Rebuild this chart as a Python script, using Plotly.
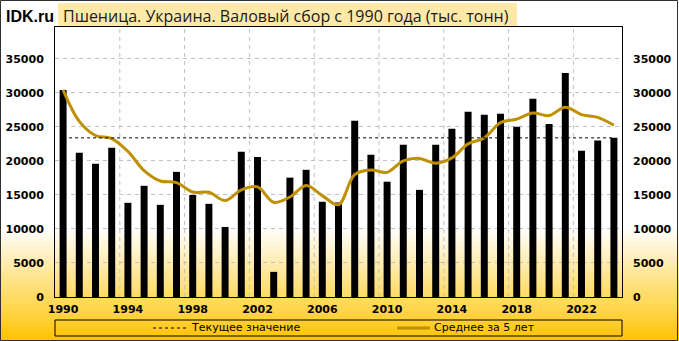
import plotly.graph_objects as go

# ---- data ----
years = list(range(1990, 2025))
harvest = [30450, 21200, 19600, 21950, 13850, 16350, 13550, 18400, 15000, 13700,
           10300, 21350, 20600, 3700, 17550, 18700, 14000, 13900, 25900, 20900,
           16950, 22400, 15750, 22400, 24750, 27250, 26800, 26950, 25050, 29150,
           25450, 32950, 21500, 23000, 23400]
avg5 = [30450, 25825, 23750, 23300, 21410, 18590, 17060, 16820, 15430, 15400,
        14190, 15750, 16190, 13930, 14700, 16380, 14910, 13570, 18010, 18680,
        18330, 20010, 20380, 19680, 20450, 22510, 23390, 25630, 26160, 27040,
        26680, 27910, 26820, 26410, 25260]
current_value = 23400
tick_years = [1990, 1994, 1998, 2002, 2006, 2010, 2014, 2018, 2022]
y_ticks = [0, 5000, 10000, 15000, 20000, 25000, 30000, 35000]
y_tick_labels = [str(v) for v in y_ticks]
title_text = "Пшеница. Украина. Валовый сбор с 1990 года (тыс. тонн)"
series_names = ["Текущее значение", "Среднее за 5 лет"]

# ---- geometry ----
W, H = 679, 341
L, R, T, B = 55, 57, 27, 44
PW, PH = W - L - R, H - T - B


def px_x(p):
    return (p - L) / PW


def px_y(p):
    return (H - B - p) / PH


fig = go.Figure()

fig.add_trace(go.Scatter(
    x=years, y=[current_value] * len(years), mode="lines",
    name=series_names[0], line=dict(color="black", width=1, dash="3px,3px"),
    yaxis="y2", showlegend=False))
fig.add_trace(go.Bar(x=years, y=harvest, marker=dict(color="black", line=dict(width=0)),
                     showlegend=False, name="Валовый сбор"))
fig.add_trace(go.Scatter(
    x=years, y=avg5, mode="lines", name=series_names[1], showlegend=False,
    line=dict(color="#BF9000", width=3, shape="spline", smoothing=1.0)))

shapes = []
# background gradient (white -> orange) at the bottom of the chart
g0, g1 = 228, H
steps = 57
for i in range(steps):
    a = g0 + (g1 - g0) * i / steps
    b = g0 + (g1 - g0) * (i + 1) / steps
    t = (i + 0.5) / steps
    r_, g_, b_ = 255, int(255 + (196 - 255) * t), int(255 + (0 - 255) * t)
    shapes.append(dict(type="rect", xref="paper", yref="paper",
                       x0=px_x(0), x1=px_x(W), y0=px_y(b + 0.5), y1=px_y(a),
                       fillcolor=f"rgb({r_},{g_},{b_})", line=dict(width=0), layer="below"))
# title background
shapes.append(dict(type="rect", xref="paper", yref="paper",
                   x0=px_x(58), x1=px_x(517), y0=px_y(27), y1=px_y(3),
                   fillcolor="#FFE9A8", line=dict(width=0), layer="below"))
# vertical dashed grid lines between category groups
for yr in tick_years:
    if yr + 3.5 < years[-1]:
        shapes.append(dict(type="line", xref="x", yref="paper", x0=yr + 3.5, x1=yr + 3.5,
                           y0=0, y1=1, line=dict(color="#C0C0C0", width=1, dash="4px,4px"),
                           layer="below"))
# legend box
shapes.append(dict(type="rect", xref="paper", yref="paper",
                   x0=0, x1=1, y0=px_y(336), y1=px_y(320),
                   line=dict(color="black", width=1), fillcolor="rgba(0,0,0,0)"))
# legend symbols
leg_y = px_y(328)
shapes.append(dict(type="line", xref="paper", yref="paper", x0=px_x(153), x1=px_x(186),
                   y0=leg_y, y1=leg_y, line=dict(color="black", width=1, dash="3px,3px")))
shapes.append(dict(type="line", xref="paper", yref="paper", x0=px_x(397), x1=px_x(430),
                   y0=leg_y, y1=leg_y, line=dict(color="#BF9000", width=3)))
# outer frame
shapes.append(dict(type="rect", xref="paper", yref="paper",
                   x0=px_x(0.5), x1=px_x(677.5), y0=px_y(340.5), y1=px_y(0.5),
                   line=dict(color="#303030", width=1), fillcolor="rgba(0,0,0,0)"))

legend_font = dict(family="DejaVu Sans", size=11, color="black")
annotations = [
    dict(text="IDK.ru", xref="paper", yref="paper", x=px_x(4), y=px_y(16),
         xanchor="left", yanchor="middle", showarrow=False,
         font=dict(family="Liberation Sans", size=16, color="black", weight="bold")),
    dict(text=title_text, xref="paper", yref="paper", x=px_x(61), y=px_y(16),
         xanchor="left", yanchor="middle", showarrow=False,
         font=dict(family="Open Sans", size=16, color="#1a1a1a")),
    dict(text=series_names[0], xref="paper", yref="paper", x=px_x(189), y=leg_y,
         xanchor="left", yanchor="middle", showarrow=False, font=legend_font),
    dict(text=series_names[1], xref="paper", yref="paper", x=px_x(432), y=leg_y,
         xanchor="left", yanchor="middle", showarrow=False, font=legend_font),
]

tickfont = dict(family="DejaVu Sans", size=11, color="black", weight="bold")

fig.update_layout(
    width=W, height=H,
    margin=dict(l=L, r=R, t=T, b=B, pad=0),
    paper_bgcolor="white", plot_bgcolor="rgba(0,0,0,0)",
    bargap=0.57,
    showlegend=False,
    xaxis=dict(range=[1989.5, 2024.5], tickvals=tick_years, ticks="", showgrid=False,
               showline=True, linecolor="black", linewidth=1, mirror=True,
               tickfont=tickfont, ticklabelstandoff=2, zeroline=False, automargin=False),
    yaxis=dict(range=[0, 39700], tickvals=y_ticks, ticktext=y_tick_labels, ticks="",
               showgrid=True, gridcolor="#C0C0C0", griddash="4px,4px", gridwidth=1,
               showline=True, linecolor="black", linewidth=1, mirror=True,
               tickfont=tickfont, ticklabelstandoff=8, zeroline=False, automargin=False),
    yaxis2=dict(range=[0, 39700], tickvals=y_ticks, ticktext=y_tick_labels, ticks="",
                showgrid=False, overlaying="y", side="right", matches="y", showline=False,
                tickfont=tickfont, ticklabelstandoff=10, zeroline=False, automargin=False),
    shapes=shapes, annotations=annotations,
)

fig.write_html("out.html")
